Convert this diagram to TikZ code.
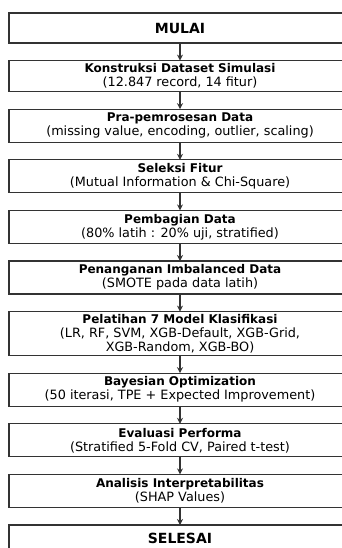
\documentclass[tikz,border=0pt]{standalone}
\usepackage{fontspec}
\setmainfont{DejaVu Sans}
\usetikzlibrary{positioning,arrows.meta}

\newcommand{\steptitle}[1]{{\bfseries\fontsize{6}{7}\selectfont #1}}

\tikzset{
  stepbox/.style={draw=black!80, line width=0.6pt, outer sep=0pt,
    minimum width=171pt, minimum height=16.5pt, align=center, inner sep=1pt,
    font=\fontsize{6.4}{7}\selectfont},
  endbox/.style={stepbox, minimum height=15pt,
    font=\bfseries\fontsize{7}{8}\selectfont}
}

\begin{document}
\begin{tikzpicture}[node distance=8.8pt,
  flow/.style={-{Stealth[length=3pt,width=3pt]}, line width=0.6pt, draw=black!80}]
  \useasboundingbox (0,0) rectangle (171pt,-274pt);
  \clip (0,0) rectangle (171pt,-274pt);
  \node[endbox, anchor=north west] (mulai) at (4.5pt,-6.5pt) {MULAI};
  \node[stepbox, minimum height=15.5pt, below=of mulai] (konstruksi)
    {\steptitle{Konstruksi Dataset Simulasi}\\(12.847 record, 14 fitur)};
  \node[stepbox, below=of konstruksi] (prapros)
    {\steptitle{Pra-pemrosesan Data}\\(missing value, encoding, outlier, scaling)};
  \node[stepbox, below=of prapros] (seleksi)
    {\steptitle{Seleksi Fitur}\\(Mutual Information \& Chi-Square)};
  \node[stepbox, below=of seleksi] (pembagian)
    {\steptitle{Pembagian Data}\\(80\% latih : 20\% uji, stratified)};
  \node[stepbox, below=of pembagian] (imbalanced)
    {\steptitle{Penanganan Imbalanced Data}\\(SMOTE pada data latih)};
  \node[stepbox, minimum height=22pt, below=of imbalanced] (pelatihan)
    {\steptitle{Pelatihan 7 Model Klasifikasi}\\(LR, RF, SVM, XGB-Default, XGB-Grid,\\XGB-Random, XGB-BO)};
  \node[stepbox, below=of pelatihan] (bayes)
    {\steptitle{Bayesian Optimization}\\(50 iterasi, TPE + Expected Improvement)};
  \node[stepbox, below=of bayes] (evaluasi)
    {\steptitle{Evaluasi Performa}\\(Stratified 5-Fold CV, Paired t-test)};
  \node[stepbox, below=of evaluasi] (analisis)
    {\steptitle{Analisis Interpretabilitas}\\(SHAP Values)};
  \node[endbox, text height=8pt, text depth=6pt, below=of analisis] (selesai) {SELESAI};
  % panah alur
  \foreach \a/\b in {mulai/konstruksi, konstruksi/prapros, prapros/seleksi,
      seleksi/pembagian, pembagian/imbalanced, imbalanced/pelatihan,
      pelatihan/bayes, bayes/evaluasi, evaluasi/analisis, analisis/selesai}
    \draw[flow] (\a) -- (\b);
\end{tikzpicture}
\end{document}
